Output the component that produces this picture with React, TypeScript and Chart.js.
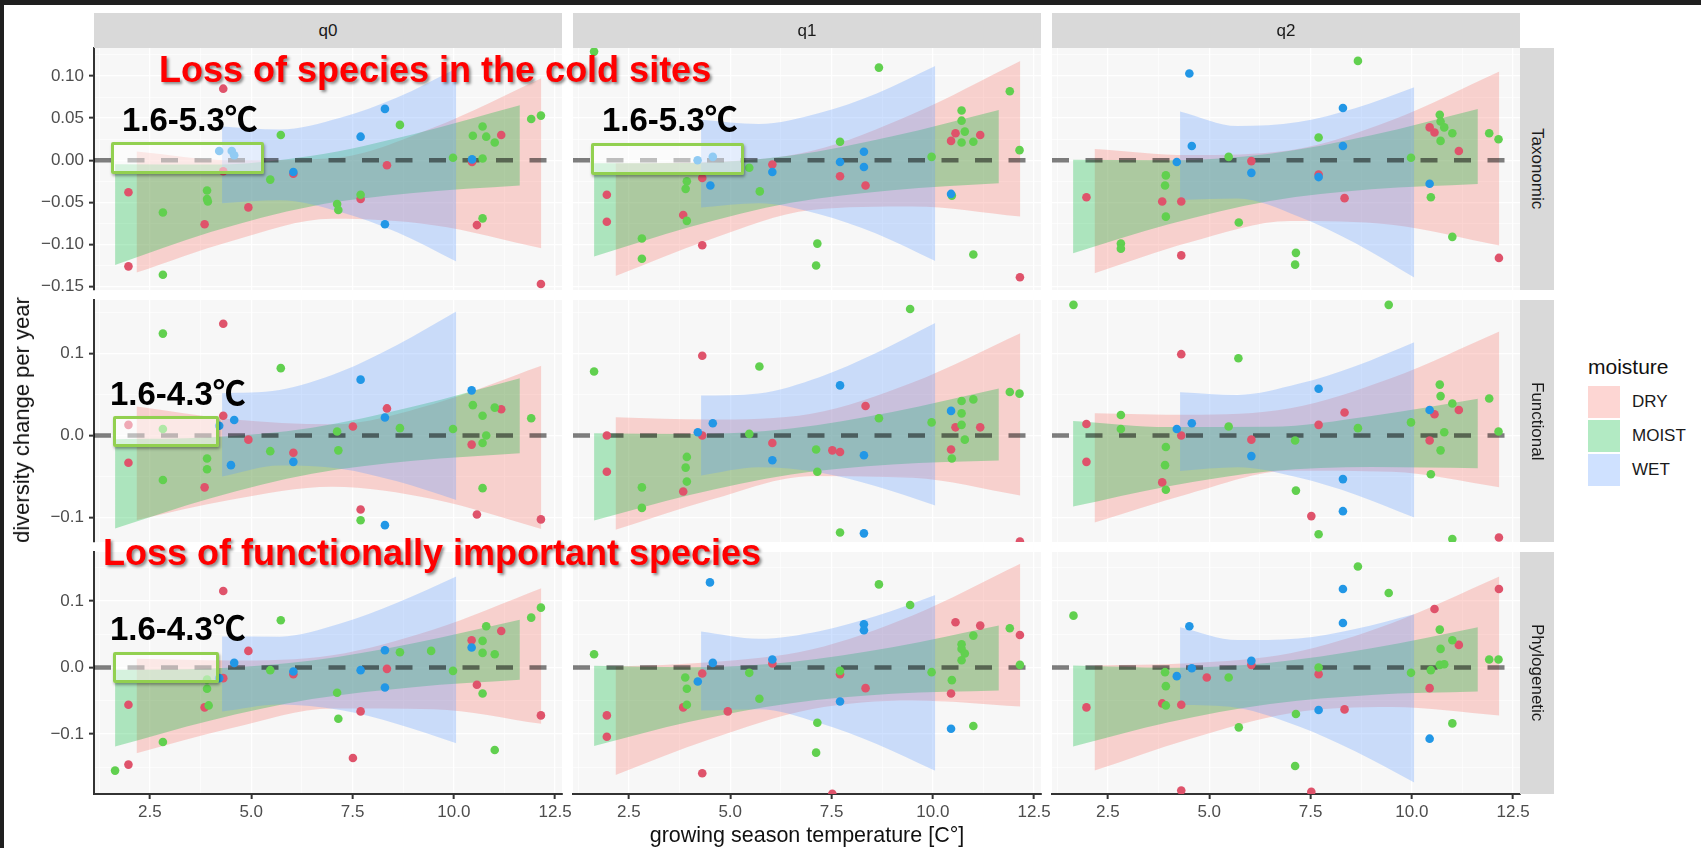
import React, { useEffect, useRef } from 'react';
import { Chart, registerables } from 'chart.js';

Chart.register(...registerables);

// ---------------- data ----------------
const MOISTURE = ['DRY', 'MOIST', 'WET'];
const INDICES = ['Taxonomic', 'Functional', 'Phylogenetic'];
const ORDERS = ['q0', 'q1', 'q2'];

const POINT_COLORS = ['#DF536B', '#61D04F', '#2297E6'];
const BAND_COLORS = ['rgba(248,118,109,0.3)', 'rgba(0,186,56,0.3)', 'rgba(97,156,255,0.3)'];

const X_LIMITS = [1.12, 12.67];
const X_MAJOR = [2.5, 5, 7.5, 10, 12.5];
const X_MINOR = [1.25, 3.75, 6.25, 8.75, 11.25];
const X_TICK_LABELS = ['2.5', '5.0', '7.5', '10.0', '12.5'];

const Y_LIMITS_TAX = [-0.1541, 0.1333];
const Y_MAJOR_TAX = [-0.15, -0.1, -0.05, 0, 0.05, 0.1];
const Y_MINOR_TAX = [-0.125, -0.075, -0.025, 0.025, 0.075, 0.125];
const Y_LABELS_TAX = ['\u22120.15', '\u22120.10', '\u22120.05', '0.00', '0.05', '0.10'];

const Y_LIMITS_FUN = [-0.1295, 0.1649];
const Y_MAJOR_FUN = [-0.1, 0, 0.1];
const Y_MINOR_FUN = [-0.05, 0.05, 0.15];
const Y_LABELS_FUN = ['\u22120.1', '0.0', '0.1'];

const Y_LIMITS_PHY = [-0.1902, 0.1737];
const Y_MAJOR_PHY = [-0.1, 0, 0.1];
const Y_MINOR_PHY = [-0.15, -0.05, 0.05, 0.15];
const Y_LABELS_PHY = ['\u22120.1', '0.0', '0.1'];

const REFERENCE_LINE = 0;

// points [temperature, change]
const TAX_Q0_DRY = [[1.97,-0.038],[1.97,-0.126],[4.31,0.085],[4.31,-0.013],[3.85,-0.076],[4.93,-0.056],[6.04,-0.016],[7.70,-0.046],[8.35,-0.006],[10.45,-0.002],[11.17,0.030],[10.57,-0.077],[12.15,-0.147]];
const TAX_Q0_MOIST = [[2.82,-0.062],[2.82,-0.136],[3.91,-0.036],[3.91,-0.046],[3.93,-0.049],[5.73,0.030],[5.47,-0.023],[7.12,-0.052],[7.15,-0.059],[7.70,-0.041],[8.67,0.042],[9.98,0.003],[10.71,0.040],[10.47,0.029],[10.80,0.028],[11.01,0.021],[10.71,0.002],[10.71,-0.069],[11.91,0.049],[12.15,0.053]];
const TAX_Q0_WET = [[4.21,0.011],[4.52,0.011],[4.58,0.006],[6.04,-0.014],[7.70,0.028],[8.30,0.061],[8.30,-0.076],[10.45,0.001]];

const TAX_Q1_DRY = [[1.955,-0.041],[1.955,-0.073],[4.31,-0.021],[3.84,-0.065],[4.31,-0.101],[6.04,-0.005],[7.71,-0.019],[8.34,-0.030],[10.45,0.023],[10.56,0.032],[11.17,0.030],[12.15,-0.139]];
const TAX_Q1_MOIST = [[1.64,0.129],[2.82,-0.093],[2.82,-0.117],[3.93,-0.025],[3.90,-0.034],[3.93,-0.072],[5.47,-0.009],[5.73,-0.037],[7.15,-0.099],[7.12,-0.125],[7.71,0.022],[8.67,0.110],[9.97,0.004],[10.47,-0.042],[10.71,0.059],[10.71,0.047],[10.79,0.034],[10.71,0.021],[11.0,0.022],[11.0,-0.112],[11.90,0.082],[12.14,0.012]];
const TAX_Q1_WET = [[4.195,0.000],[4.57,0.004],[4.51,-0.030],[6.04,-0.014],[7.71,-0.002],[8.30,0.010],[8.30,-0.008],[10.45,-0.040]];

const TAX_Q2_DRY = [[1.97,-0.044],[3.84,-0.049],[4.31,-0.049],[4.31,-0.113],[6.04,-0.001],[7.70,-0.017],[8.34,-0.045],[10.44,0.039],[10.56,0.033],[11.16,0.011],[12.15,-0.116]];
const TAX_Q2_MOIST = [[2.82,-0.099],[2.82,-0.105],[3.93,-0.018],[3.91,-0.030],[3.93,-0.067],[5.48,0.004],[5.73,-0.074],[7.14,-0.110],[7.12,-0.124],[7.70,0.027],[8.67,0.118],[9.98,0.003],[10.47,-0.044],[10.69,0.054],[10.71,0.046],[10.80,0.039],[10.71,0.023],[11.0,0.032],[11.0,-0.091],[11.91,0.032],[12.14,0.025]];
const TAX_Q2_WET = [[4.20,-0.002],[4.57,0.017],[4.51,0.103],[6.04,-0.015],[7.70,-0.020],[8.30,0.062],[8.30,0.017],[10.44,-0.028]];

const FUN_Q0_DRY = [[1.97,0.013],[1.97,-0.033],[4.31,0.136],[4.31,0.024],[3.85,-0.063],[4.93,-0.005],[6.04,-0.021],[7.51,0.011],[7.70,-0.090],[8.35,0.033],[10.44,-0.011],[11.17,0.032],[10.57,-0.096],[12.15,-0.102]];
const FUN_Q0_MOIST = [[2.82,0.124],[2.82,0.008],[2.82,-0.054],[3.91,-0.028],[3.91,-0.041],[5.73,0.082],[5.47,-0.019],[7.12,0.005],[7.15,-0.018],[7.70,-0.103],[8.67,0.009],[9.98,0.008],[10.47,0.037],[10.71,0.024],[10.80,0.000],[10.71,-0.009],[11.01,0.034],[10.71,-0.064],[11.91,0.021]];
const FUN_Q0_WET = [[4.21,0.012],[4.58,0.019],[4.50,-0.036],[6.04,-0.032],[7.70,0.068],[8.30,0.022],[8.30,-0.109],[10.44,0.055]];

const FUN_Q1_DRY = [[1.955,0.000],[1.955,-0.044],[4.31,0.097],[4.31,0.000],[3.84,-0.068],[6.04,-0.009],[7.52,-0.018],[7.71,-0.020],[8.34,0.036],[10.56,0.010],[10.45,-0.017],[11.17,0.010],[12.15,-0.129]];
const FUN_Q1_MOIST = [[1.64,0.078],[2.82,-0.063],[2.82,-0.088],[3.93,-0.026],[3.90,-0.039],[3.93,-0.056],[5.72,0.084],[5.47,0.002],[7.12,-0.017],[7.15,-0.044],[7.71,-0.118],[8.67,0.021],[9.44,0.154],[9.97,0.016],[10.71,0.042],[10.71,0.027],[10.71,0.013],[10.79,-0.005],[10.47,-0.028],[11.0,0.044],[11.90,0.053],[12.14,0.051]];
const FUN_Q1_WET = [[4.20,0.004],[4.57,0.015],[6.04,-0.030],[7.71,0.061],[8.30,-0.119],[8.30,-0.024],[10.45,0.030]];

const FUN_Q2_DRY = [[1.97,0.014],[1.97,-0.032],[3.84,-0.057],[4.31,0.099],[4.31,0.000],[6.04,-0.005],[7.52,-0.098],[7.70,0.013],[8.34,0.028],[10.56,0.026],[10.44,-0.006],[11.16,0.031],[12.15,-0.124]];
const FUN_Q2_MOIST = [[1.65,0.159],[2.82,0.025],[2.82,0.008],[3.93,-0.014],[3.91,-0.036],[3.93,-0.066],[5.48,0.011],[5.72,0.094],[7.12,-0.006],[7.14,-0.067],[7.70,-0.120],[8.67,0.009],[9.43,0.159],[9.98,0.016],[10.47,-0.047],[10.69,0.062],[10.71,0.048],[11.0,0.039],[10.80,0.004],[10.71,-0.018],[11.0,-0.126],[11.91,0.045],[12.14,0.005]];
const FUN_Q2_WET = [[4.20,0.008],[4.57,0.015],[6.04,-0.025],[7.70,0.057],[8.30,-0.053],[8.30,-0.092],[10.44,0.031]];

const PHY_Q0_DRY = [[1.97,-0.146],[1.97,-0.056],[4.31,0.115],[4.31,-0.016],[3.85,-0.060],[4.93,0.025],[6.04,-0.010],[7.51,-0.136],[7.70,-0.066],[8.35,-0.002],[10.44,0.041],[11.17,0.055],[10.57,-0.026],[12.15,-0.072]];
const PHY_Q0_MOIST = [[1.64,-0.155],[2.82,-0.112],[3.91,-0.018],[3.91,-0.032],[3.95,-0.057],[5.73,0.071],[5.47,-0.004],[7.12,-0.038],[7.15,-0.077],[8.67,0.023],[9.44,0.025],[9.98,-0.005],[10.71,0.040],[10.71,0.022],[10.80,0.062],[11.01,0.020],[10.71,-0.039],[11.01,-0.124],[11.91,0.075],[12.15,0.090]];
const PHY_Q0_WET = [[4.21,-0.016],[4.58,0.007],[6.04,-0.006],[7.70,-0.004],[8.30,0.026],[8.30,-0.030],[10.44,0.030]];

const PHY_Q1_DRY = [[1.955,-0.072],[1.955,-0.104],[4.31,-0.159],[4.31,-0.009],[3.84,-0.060],[4.94,-0.066],[6.04,0.006],[7.52,-0.190],[7.71,-0.010],[8.34,-0.031],[10.56,0.068],[11.17,0.063],[10.45,-0.039],[12.15,0.049]];
const PHY_Q1_MOIST = [[1.64,0.020],[3.89,-0.015],[3.93,-0.032],[3.93,-0.056],[5.47,-0.008],[5.72,-0.047],[7.15,-0.083],[7.12,-0.128],[7.71,-0.005],[8.67,0.125],[9.44,0.094],[9.97,-0.007],[11.0,0.048],[10.71,0.035],[10.71,0.028],[10.79,0.021],[10.71,0.011],[10.47,-0.019],[11.0,-0.088],[11.90,0.059],[12.15,0.004]];
const PHY_Q1_WET = [[4.50,0.128],[4.57,0.007],[4.20,-0.021],[6.04,0.012],[7.71,-0.051],[8.30,0.065],[8.30,0.056],[10.45,-0.092]];

const PHY_Q2_DRY = [[1.97,-0.060],[3.84,-0.054],[4.31,-0.056],[4.31,-0.185],[4.94,-0.015],[6.04,0.004],[7.52,-0.187],[7.70,-0.010],[8.34,-0.063],[10.56,0.088],[11.16,0.034],[10.44,-0.031],[12.15,0.118]];
const PHY_Q2_MOIST = [[1.65,0.078],[3.91,-0.007],[3.93,-0.028],[3.93,-0.057],[5.48,-0.015],[5.73,-0.090],[7.14,-0.070],[7.12,-0.148],[7.70,0.000],[8.67,0.152],[9.43,0.112],[9.98,-0.008],[10.69,0.057],[11.0,0.041],[10.71,0.028],[10.80,0.005],[10.69,0.004],[10.47,-0.004],[11.0,-0.084],[11.91,0.012],[12.14,0.012]];
const PHY_Q2_WET = [[4.20,-0.013],[4.51,0.062],[4.57,-0.001],[6.04,0.010],[7.70,-0.064],[8.30,0.118],[8.30,0.067],[10.44,-0.107]];

// confidence bands [temperature, lower, upper]
const TAX_Q0_DRY_BAND = [[2.17,-0.1334,0.0103],[4.5,-0.0961,-0.0001],[7.0,-0.0696,0.0024],[9.5,-0.0771,0.0389],[12.16,-0.1045,0.0974]];
const TAX_Q0_MOIST_BAND = [[1.64,-0.1243,-0.0048],[4.0,-0.0852,-0.0052],[6.5,-0.0546,0.0054],[9.0,-0.039,0.031],[11.63,-0.0301,0.0653]];
const TAX_Q0_WET_BAND = [[4.28,-0.0511,0.040],[5.7,-0.0476,0.0364],[7.2,-0.0616,0.0504],[8.6,-0.0856,0.0744],[10.06,-0.1203,0.109]];

const TAX_Q1_DRY_BAND = [[2.17,-0.1374,-0.0036],[4.5,-0.0941,-0.0021],[7.0,-0.0591,0.0109],[9.5,-0.055,0.055],[12.16,-0.0669,0.118]];
const TAX_Q1_MOIST_BAND = [[1.64,-0.1144,-0.0036],[4.0,-0.0792,-0.0032],[6.5,-0.0504,0.0056],[9.0,-0.0355,0.0285],[11.63,-0.0273,0.0598]];
const TAX_Q1_WET_BAND = [[4.28,-0.056,0.048],[5.7,-0.051,0.043],[7.2,-0.064,0.056],[8.6,-0.087,0.079],[10.06,-0.1198,0.112]];

const TAX_Q2_DRY_BAND = [[2.17,-0.1342,0.0135],[4.5,-0.0978,0.0062],[7.0,-0.0722,0.0118],[9.5,-0.0766,0.0474],[12.16,-0.1013,0.1053]];
const TAX_Q2_MOIST_BAND = [[1.64,-0.1105,0.0005],[4.0,-0.0761,-0.0001],[6.5,-0.0483,0.0077],[9.0,-0.0344,0.0296],[11.63,-0.0281,0.0609]];
const TAX_Q2_WET_BAND = [[4.28,-0.0471,0.0579],[5.7,-0.0454,0.0406],[7.2,-0.0667,0.0453],[8.6,-0.0984,0.0616],[10.06,-0.1394,0.0866]];

const FUN_Q0_DRY_BAND = [[2.17,-0.1027,0.0353],[4.5,-0.0782,0.0198],[7.0,-0.0624,0.0136],[9.5,-0.0775,0.0385],[12.16,-0.1136,0.0848]];
const FUN_Q0_MOIST_BAND = [[1.64,-0.1131,-0.0045],[4.0,-0.0762,-0.0022],[6.5,-0.0465,0.0095],[9.0,-0.0307,0.0353],[11.63,-0.0215,0.0697]];
const FUN_Q0_WET_BAND = [[4.28,-0.0499,0.0515],[5.7,-0.0365,0.0555],[7.2,-0.0403,0.0777],[8.6,-0.0557,0.1103],[10.06,-0.0783,0.1509]];

const FUN_Q1_DRY_BAND = [[2.17,-0.1147,0.0223],[4.5,-0.0784,0.0196],[7.0,-0.0494,0.0266],[9.5,-0.0514,0.0646],[12.16,-0.073,0.1246]];
const FUN_Q1_MOIST_BAND = [[1.64,-0.1034,0.0028],[4.0,-0.0722,0.0018],[6.5,-0.0473,0.0087],[9.0,-0.0353,0.0287],[11.63,-0.0304,0.0572]];
const FUN_Q1_WET_BAND = [[4.28,-0.0487,0.0487],[5.7,-0.0387,0.0513],[7.2,-0.045,0.071],[8.6,-0.0617,0.1003],[10.06,-0.0852,0.1368]];

const FUN_Q2_DRY_BAND = [[2.17,-0.1058,0.0272],[4.5,-0.0707,0.0253],[7.0,-0.0429,0.0331],[9.5,-0.0441,0.0699],[12.16,-0.0629,0.1265]];
const FUN_Q2_MOIST_BAND = [[1.64,-0.0864,0.0178],[4.0,-0.0616,0.0104],[6.5,-0.0434,0.0106],[9.0,-0.0382,0.0238],[11.63,-0.0397,0.0447]];
const FUN_Q2_WET_BAND = [[4.28,-0.043,0.0528],[5.7,-0.0386,0.0494],[7.2,-0.0511,0.0629],[8.6,-0.0716,0.0844],[10.06,-0.0998,0.1136]];

const PHY_Q0_DRY_BAND = [[2.17,-0.1288,0.013],[4.5,-0.0914,0.0106],[7.0,-0.0615,0.0185],[9.5,-0.0627,0.0573],[12.16,-0.0847,0.1193]];
const PHY_Q0_MOIST_BAND = [[1.64,-0.1189,-0.0035],[4.0,-0.0795,-0.0015],[6.5,-0.0475,0.0105],[9.0,-0.0295,0.0365],[11.63,-0.0185,0.0717]];
const PHY_Q0_WET_BAND = [[4.28,-0.0662,0.0466],[5.7,-0.0556,0.0464],[7.2,-0.064,0.066],[8.6,-0.0848,0.0972],[10.06,-0.1138,0.1368]];

const PHY_Q1_DRY_BAND = [[2.17,-0.1615,0.0015],[4.5,-0.108,0.008],[7.0,-0.0628,0.0272],[9.5,-0.0496,0.0784],[12.16,-0.0586,0.156]];
const PHY_Q1_MOIST_BAND = [[1.64,-0.1179,0.0025],[4.0,-0.0817,0.0003],[6.5,-0.0537,0.0083],[9.0,-0.0396,0.0304],[11.63,-0.0346,0.0632]];
const PHY_Q1_WET_BAND = [[4.28,-0.0647,0.0541],[5.7,-0.0627,0.0433],[7.2,-0.0833,0.0547],[8.6,-0.1146,0.0774],[10.06,-0.1554,0.1092]];

const PHY_Q2_DRY_BAND = [[2.17,-0.155,0.003],[4.5,-0.1077,0.0063],[7.0,-0.0686,0.0214],[9.5,-0.0595,0.0665],[12.16,-0.0722,0.1368]];
const PHY_Q2_MOIST_BAND = [[1.64,-0.1188,0.003],[4.0,-0.0823,-0.0003],[6.5,-0.0548,0.0072],[9.0,-0.0412,0.0288],[11.63,-0.0361,0.0607]];
const PHY_Q2_WET_BAND = [[4.28,-0.0561,0.0607],[5.7,-0.0607,0.0413],[7.2,-0.0883,0.0437],[8.6,-0.1261,0.0579],[10.06,-0.173,0.0802]];

const PANEL_POINTS = [
  [[TAX_Q0_DRY, TAX_Q0_MOIST, TAX_Q0_WET], [TAX_Q1_DRY, TAX_Q1_MOIST, TAX_Q1_WET], [TAX_Q2_DRY, TAX_Q2_MOIST, TAX_Q2_WET]],
  [[FUN_Q0_DRY, FUN_Q0_MOIST, FUN_Q0_WET], [FUN_Q1_DRY, FUN_Q1_MOIST, FUN_Q1_WET], [FUN_Q2_DRY, FUN_Q2_MOIST, FUN_Q2_WET]],
  [[PHY_Q0_DRY, PHY_Q0_MOIST, PHY_Q0_WET], [PHY_Q1_DRY, PHY_Q1_MOIST, PHY_Q1_WET], [PHY_Q2_DRY, PHY_Q2_MOIST, PHY_Q2_WET]],
];
const PANEL_BANDS = [
  [[TAX_Q0_DRY_BAND, TAX_Q0_MOIST_BAND, TAX_Q0_WET_BAND], [TAX_Q1_DRY_BAND, TAX_Q1_MOIST_BAND, TAX_Q1_WET_BAND], [TAX_Q2_DRY_BAND, TAX_Q2_MOIST_BAND, TAX_Q2_WET_BAND]],
  [[FUN_Q0_DRY_BAND, FUN_Q0_MOIST_BAND, FUN_Q0_WET_BAND], [FUN_Q1_DRY_BAND, FUN_Q1_MOIST_BAND, FUN_Q1_WET_BAND], [FUN_Q2_DRY_BAND, FUN_Q2_MOIST_BAND, FUN_Q2_WET_BAND]],
  [[PHY_Q0_DRY_BAND, PHY_Q0_MOIST_BAND, PHY_Q0_WET_BAND], [PHY_Q1_DRY_BAND, PHY_Q1_MOIST_BAND, PHY_Q1_WET_BAND], [PHY_Q2_DRY_BAND, PHY_Q2_MOIST_BAND, PHY_Q2_WET_BAND]],
];
const ROW_Y = [
  { lim: Y_LIMITS_TAX, major: Y_MAJOR_TAX, minor: Y_MINOR_TAX, labels: Y_LABELS_TAX },
  { lim: Y_LIMITS_FUN, major: Y_MAJOR_FUN, minor: Y_MINOR_FUN, labels: Y_LABELS_FUN },
  { lim: Y_LIMITS_PHY, major: Y_MAJOR_PHY, minor: Y_MINOR_PHY, labels: Y_LABELS_PHY },
];

// ---------------- layout / style ----------------
const COL_LEFT = [94, 573, 1052];
const ROW_TOP = [48, 300, 552];
const PANEL_W = 468;
const PANEL_H = 242;
const Y_AXIS_W = 64;
const X_AXIS_H = 36;
const PAD = 12;
const PAD_R = 26;
const PANEL_BG = '#F7F7F7';
const AXIS_COLOR = '#333333';
const FONT = '"Liberation Sans", Arial, Helvetica, sans-serif';

const near = (a: number, b: number) => Math.abs(a - b) < 1e-9;
const isMajor = (list: number[], v: number) => list.some((m) => near(m, v));

function geometry(row: number, col: number) {
  const padL = col === 0 ? 0 : PAD;
  const yW = col === 0 ? Y_AXIS_W : 0;
  const xH = row === 2 ? X_AXIS_H : 0;
  const padB = row === 2 ? 6 : PAD;
  return {
    padL, yW, xH, padB,
    left: COL_LEFT[col] - yW - padL,
    top: ROW_TOP[row] - PAD,
    w: padL + yW + PANEL_W + PAD_R,
    h: PAD + PANEL_H + xH + padB,
  };
}

const panelPlugin = {
  id: 'panelDecor',
  beforeDraw(chart: any) {
    const { ctx, chartArea: a } = chart;
    ctx.save();
    ctx.fillStyle = PANEL_BG;
    ctx.fillRect(a.left, a.top, a.right - a.left, a.bottom - a.top);
    ctx.restore();
  },
  beforeDatasetDraw(chart: any, args: any) {
    if (args.index !== 0) return;
    const { ctx, chartArea: a } = chart;
    const y = chart.scales.y.getPixelForValue(REFERENCE_LINE);
    ctx.save();
    ctx.beginPath();
    ctx.rect(a.left, a.top, a.right - a.left, a.bottom - a.top);
    ctx.clip();
    ctx.strokeStyle = 'rgba(0,0,0,0.5)';
    ctx.lineWidth = 4.5;
    ctx.setLineDash([17, 16.5]);
    ctx.beginPath();
    ctx.moveTo(a.left, y);
    ctx.lineTo(a.right, y);
    ctx.stroke();
    ctx.restore();
  },
};

function Panel({ row, col }: { row: number; col: number }) {
  const ref = useRef<HTMLCanvasElement>(null);
  const g = geometry(row, col);
  useEffect(() => {
    const pts = PANEL_POINTS[row][col];
    const bands = PANEL_BANDS[row][col];
    const yc = ROW_Y[row];
    const datasets: any[] = [];
    pts.forEach((arr, k) => {
      datasets.push({
        type: 'scatter',
        label: MOISTURE[k],
        data: arr.map(([x, y]) => ({ x, y })),
        backgroundColor: POINT_COLORS[k],
        borderWidth: 0,
        borderColor: 'rgba(0,0,0,0)',
        pointRadius: 4.3,
        pointHoverRadius: 4.3,
        order: 0.3 - k * 0.1,
        clip: 0,
      });
    });
    bands.forEach((arr, k) => {
      datasets.push({
        type: 'line',
        data: arr.map(([x, , hi]) => ({ x, y: hi })),
        showLine: true,
        borderWidth: 0,
        borderColor: 'rgba(0,0,0,0)',
        backgroundColor: BAND_COLORS[k],
        pointRadius: 0,
        fill: '+1',
        cubicInterpolationMode: 'monotone',
        order: 3 - k,
        clip: 0,
      });
      datasets.push({
        type: 'line',
        data: arr.map(([x, lo]) => ({ x, y: lo })),
        showLine: true,
        borderWidth: 0,
        borderColor: 'rgba(0,0,0,0)',
        backgroundColor: 'rgba(0,0,0,0)',
        pointRadius: 0,
        fill: false,
        cubicInterpolationMode: 'monotone',
        order: 3 - k,
        clip: 0,
      });
    });
    const showX = row === 2;
    const showY = col === 0;
    const xTicks = [...X_MAJOR, ...X_MINOR].sort((a, b) => a - b);
    const yTicks = [...yc.major, ...yc.minor].sort((a, b) => a - b);
    const chart = new Chart(ref.current as HTMLCanvasElement, {
      type: 'scatter',
      data: { datasets },
      plugins: [panelPlugin],
      options: {
        animation: false,
        responsive: false,
        devicePixelRatio: 1,
        events: [],
        layout: { padding: { left: g.padL, top: PAD, right: PAD_R, bottom: g.padB } },
        plugins: { legend: { display: false }, tooltip: { enabled: false } },
        scales: {
          x: {
            type: 'linear',
            bounds: 'data',
            min: X_LIMITS[0],
            max: X_LIMITS[1],
            afterBuildTicks: (s: any) => { s.ticks = xTicks.map((v) => ({ value: v })); },
            afterFit: (s: any) => { s.height = g.xH; s.paddingLeft = 0; s.paddingRight = 0; s.paddingTop = 0; s.paddingBottom = 0; },
            ticks: {
              display: showX,
              autoSkip: false,
              maxRotation: 0,
              minRotation: 0,
              padding: 3,
              color: '#4D4D4D',
              font: { family: FONT, size: 17 },
              callback: (v: any) => {
                const i = X_MAJOR.findIndex((m) => near(m, Number(v)));
                return i >= 0 ? X_TICK_LABELS[i] : '';
              },
            },
            grid: {
              color: '#FFFFFF',
              lineWidth: (c: any) => (isMajor(X_MAJOR, c.tick.value) ? 1.3 : 0.6),
              drawTicks: showX,
              tickLength: 5,
              tickWidth: 2,
              tickColor: (c: any) => (isMajor(X_MAJOR, c.tick.value) ? AXIS_COLOR : 'rgba(0,0,0,0)'),
            },
            border: { display: showX, color: AXIS_COLOR, width: 2 },
          },
          y: {
            type: 'linear',
            bounds: 'data',
            min: yc.lim[0],
            max: yc.lim[1],
            afterBuildTicks: (s: any) => { s.ticks = yTicks.map((v) => ({ value: v })); },
            afterFit: (s: any) => { s.width = g.yW; s.paddingLeft = 0; s.paddingRight = 0; s.paddingTop = 0; s.paddingBottom = 0; },
            ticks: {
              display: showY,
              autoSkip: false,
              padding: 5,
              color: '#4D4D4D',
              font: { family: FONT, size: 17 },
              callback: (v: any) => {
                const i = yc.major.findIndex((m) => near(m, Number(v)));
                return i >= 0 ? yc.labels[i] : '';
              },
            },
            grid: {
              color: '#FFFFFF',
              lineWidth: (c: any) => (isMajor(yc.major, c.tick.value) ? 1.3 : 0.6),
              drawTicks: showY,
              tickLength: 5,
              tickWidth: 2,
              tickColor: (c: any) => (isMajor(yc.major, c.tick.value) ? AXIS_COLOR : 'rgba(0,0,0,0)'),
            },
            border: { display: showY, color: AXIS_COLOR, width: 2 },
          },
        },
      } as any,
    } as any);
    return () => chart.destroy();
  }, [row, col]);
  return (
    <canvas
      ref={ref}
      width={g.w}
      height={g.h}
      style={{ position: 'absolute', left: g.left, top: g.top, width: g.w, height: g.h }}
    />
  );
}

const RANGE_LABELS = [
  { text: '1.6-5.3\u2103', left: 122, baseline: 131 },
  { text: '1.6-5.3\u2103', left: 602, baseline: 131 },
  { text: '1.6-4.3\u2103', left: 110, baseline: 405 },
  { text: '1.6-4.3\u2103', left: 110, baseline: 640 },
];
const BOXES = [
  { left: 111, top: 142, w: 153, h: 32 },
  { left: 591, top: 143, w: 153, h: 32 },
  { left: 113, top: 416, w: 106, h: 31 },
  { left: 113, top: 652, w: 106, h: 31 },
];
const HEADLINES = [
  { text: 'Loss of species in the cold sites', left: 159, baseline: 82 },
  { text: 'Loss of functionally important species', left: 103, baseline: 565 },
];

export default function App() {
  const cells: React.ReactNode[] = [];
  for (let r = 0; r < 3; r++) for (let c = 0; c < 3; c++) cells.push(<Panel key={`${r}-${c}`} row={r} col={c} />);
  const legendKeyTop = [386, 420, 454];
  return (
    <div style={{ position: 'absolute', left: 0, top: 0, width: 1701, height: 848, background: '#FFFFFF', overflow: 'hidden', fontFamily: FONT }}>
      {cells}
      {ORDERS.map((q, c) => (
        <div key={q} style={{ position: 'absolute', left: COL_LEFT[c], top: 13, width: PANEL_W, height: 35, background: '#D9D9D9', display: 'flex', alignItems: 'center', justifyContent: 'center', fontSize: 17, color: '#1A1A1A' }}>{q}</div>
      ))}
      {INDICES.map((t, r) => (
        <div key={t} style={{ position: 'absolute', left: 1520, top: ROW_TOP[r], width: 34, height: PANEL_H, background: '#D9D9D9', display: 'flex', alignItems: 'center', justifyContent: 'center' }}>
          <span style={{ writingMode: 'vertical-rl', fontSize: 17, color: '#1A1A1A' }}>{t}</span>
        </div>
      ))}
      <div style={{ position: 'absolute', left: 22, top: 420, transform: 'translate(-50%, -50%) rotate(-90deg)', whiteSpace: 'nowrap', fontSize: 22, color: '#111' }}>diversity change per year</div>
      <div style={{ position: 'absolute', left: 807, top: 835, transform: 'translate(-50%, -50%)', whiteSpace: 'nowrap', fontSize: 21.5, color: '#111' }}>growing season temperature [C°]</div>
      <div style={{ position: 'absolute', left: 1588, top: 367, transform: 'translateY(-50%)', fontSize: 21, color: '#111' }}>moisture</div>
      {MOISTURE.map((m, k) => (
        <React.Fragment key={m}>
          <div style={{ position: 'absolute', left: 1588, top: legendKeyTop[k], width: 32, height: 32, background: BAND_COLORS[k] }} />
          <div style={{ position: 'absolute', left: 1632, top: legendKeyTop[k] + 16, transform: 'translateY(-50%)', fontSize: 17, color: '#1A1A1A' }}>{m}</div>
        </React.Fragment>
      ))}
      {BOXES.map((b, i) => (
        <div key={i} style={{ position: 'absolute', left: b.left, top: b.top, width: b.w, height: b.h, boxSizing: 'border-box', border: '3px solid #92D050', background: 'rgba(255,255,255,0.5)', boxShadow: '1px 2px 3px rgba(0,0,0,0.35)', borderRadius: 2 }} />
      ))}
      {RANGE_LABELS.map((l, i) => (
        <div key={i} style={{ position: 'absolute', left: l.left, top: l.baseline - 0.8465 * 33, fontSize: 33, lineHeight: '33px', fontWeight: 700, color: '#000', whiteSpace: 'nowrap', fontFamily: '"Liberation Sans", "Noto Sans CJK SC", sans-serif' }}>{l.text}</div>
      ))}
      {HEADLINES.map((h, i) => (
        <div key={i} style={{ position: 'absolute', left: h.left, top: h.baseline - 0.8465 * 36, fontSize: 36, lineHeight: '36px', fontWeight: 700, color: '#FF0000', whiteSpace: 'nowrap', textShadow: '2px 2px 3px rgba(0,0,0,0.45)' }}>{h.text}</div>
      ))}
      <div style={{ position: 'absolute', left: 0, top: 0, width: 1701, height: 5, background: '#1F1F1F' }} />
      <div style={{ position: 'absolute', left: 0, top: 0, width: 4, height: 848, background: '#1F1F1F' }} />
    </div>
  );
}
